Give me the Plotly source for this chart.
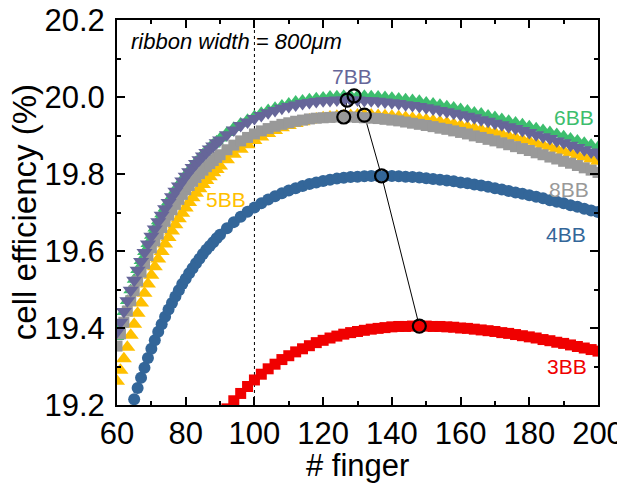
import plotly.graph_objects as go

# ---------------- data ----------------
fingers = list(range(60, 91)) + list(range(92, 201, 2))
fingers_3bb = list(range(88, 91)) + list(range(92, 201, 2))

eff_3bb = [19.141, 19.154, 19.167,
           19.190, 19.211, 19.230, 19.248, 19.265, 19.280, 19.294, 19.306, 19.318, 19.328,
           19.338, 19.346, 19.354, 19.362, 19.368, 19.374, 19.379, 19.384, 19.388, 19.391,
           19.394, 19.397, 19.399, 19.401, 19.403, 19.404, 19.404, 19.405, 19.405, 19.405,
           19.404, 19.404, 19.403, 19.402, 19.400, 19.399, 19.397, 19.395, 19.393, 19.391,
           19.388, 19.386, 19.383, 19.380, 19.377, 19.374, 19.370, 19.367, 19.363, 19.360,
           19.356, 19.352, 19.348, 19.344, 19.340]

eff_4bb = [19.046, 19.083, 19.119, 19.153, 19.185, 19.215, 19.244, 19.271, 19.297, 19.322,
           19.346, 19.368, 19.390, 19.410, 19.429, 19.448, 19.465, 19.482, 19.498, 19.514,
           19.528, 19.542, 19.555, 19.568, 19.580, 19.592, 19.603, 19.613, 19.623, 19.633,
           19.642,
           19.659, 19.675, 19.689, 19.702, 19.713, 19.724, 19.734, 19.742, 19.750, 19.757,
           19.763, 19.769, 19.774, 19.778, 19.782, 19.785, 19.788, 19.790, 19.792, 19.793,
           19.794, 19.795, 19.795, 19.795, 19.795, 19.794, 19.793, 19.792, 19.791, 19.789,
           19.787, 19.785, 19.783, 19.781, 19.778, 19.776, 19.773, 19.770, 19.767, 19.763,
           19.760, 19.756, 19.752, 19.749, 19.745, 19.741, 19.737, 19.732, 19.728, 19.724,
           19.719, 19.715, 19.710, 19.705, 19.701]

eff_5bb = [19.262, 19.290, 19.320, 19.350, 19.381, 19.410, 19.438, 19.465, 19.490, 19.514,
           19.537, 19.559, 19.579, 19.599, 19.618, 19.635, 19.652, 19.668, 19.684, 19.698,
           19.712, 19.726, 19.738, 19.750, 19.762, 19.773, 19.783, 19.793, 19.803, 19.812,
           19.821,
           19.837, 19.851, 19.864, 19.876, 19.887, 19.896, 19.905, 19.913, 19.920, 19.926,
           19.931, 19.936, 19.940, 19.943, 19.946, 19.948, 19.950, 19.951, 19.952, 19.953,
           19.953, 19.953, 19.952, 19.951, 19.950, 19.949, 19.947, 19.945, 19.943, 19.941,
           19.938, 19.936, 19.933, 19.929, 19.926, 19.922, 19.919, 19.915, 19.911, 19.907,
           19.903, 19.898, 19.894, 19.889, 19.885, 19.880, 19.875, 19.870, 19.865, 19.860,
           19.855, 19.849, 19.844, 19.839, 19.833]

eff_6bb = [19.377, 19.410, 19.442, 19.471, 19.499, 19.526, 19.551, 19.575, 19.598, 19.619,
           19.640, 19.659, 19.678, 19.696, 19.712, 19.728, 19.743, 19.758, 19.772, 19.785,
           19.797, 19.809, 19.820, 19.831, 19.841, 19.851, 19.860, 19.869, 19.877, 19.885,
           19.893,
           19.907, 19.920, 19.931, 19.941, 19.950, 19.959, 19.966, 19.972, 19.978, 19.983,
           19.988, 19.991, 19.994, 19.997, 19.999, 20.001, 20.002, 20.003, 20.003, 20.003,
           20.003, 20.002, 20.001, 20.000, 19.998, 19.996, 19.994, 19.992, 19.990, 19.986,
           19.983, 19.980, 19.976, 19.973, 19.969, 19.965, 19.960, 19.957, 19.952, 19.948,
           19.943, 19.938, 19.934, 19.929, 19.924, 19.919, 19.914, 19.909, 19.904, 19.898,
           19.892, 19.887, 19.881, 19.876, 19.870]

eff_7bb = [19.390, 19.415, 19.443, 19.471, 19.498, 19.524, 19.550, 19.573, 19.596, 19.618,
           19.638, 19.657, 19.676, 19.693, 19.710, 19.726, 19.741, 19.755, 19.769, 19.782,
           19.794, 19.806, 19.817, 19.827, 19.837, 19.847, 19.856, 19.865, 19.873, 19.881,
           19.888,
           19.902, 19.914, 19.926, 19.935, 19.944, 19.952, 19.959, 19.965, 19.971, 19.975,
           19.979, 19.983, 19.986, 19.988, 19.990, 19.991, 19.992, 19.992, 19.992, 19.992,
           19.991, 19.990, 19.989, 19.987, 19.985, 19.983, 19.980, 19.978, 19.975, 19.972,
           19.969, 19.965, 19.962, 19.958, 19.954, 19.950, 19.946, 19.941, 19.937, 19.932,
           19.928, 19.923, 19.918, 19.913, 19.908, 19.902, 19.897, 19.892, 19.886, 19.881,
           19.875, 19.869, 19.863, 19.857, 19.852]

eff_8bb = [19.353, 19.385, 19.415, 19.444, 19.471, 19.497, 19.522, 19.545, 19.567, 19.588,
           19.608, 19.626, 19.644, 19.661, 19.677, 19.693, 19.707, 19.721, 19.734, 19.747,
           19.759, 19.770, 19.781, 19.791, 19.801, 19.810, 19.819, 19.827, 19.835, 19.843,
           19.850,
           19.863, 19.875, 19.886, 19.895, 19.904, 19.912, 19.918, 19.924, 19.929, 19.933,
           19.937, 19.940, 19.943, 19.945, 19.946, 19.947, 19.948, 19.948, 19.948, 19.947,
           19.946, 19.945, 19.944, 19.942, 19.940, 19.938, 19.935, 19.932, 19.929, 19.926,
           19.923, 19.919, 19.916, 19.912, 19.908, 19.904, 19.899, 19.895, 19.890, 19.886,
           19.881, 19.876, 19.871, 19.866, 19.861, 19.855, 19.850, 19.844, 19.839, 19.833,
           19.828, 19.822, 19.816, 19.810, 19.804]

# optimum of each curve (open circles)
opt_names = ["3BB", "4BB", "5BB", "6BB", "7BB", "8BB"]
opt_fingers = [148, 137, 132, 129, 127, 126]
opt_eff = [19.405, 19.795, 19.953, 20.003, 19.992, 19.948]

# curve labels
label_text = ["7BB", "6BB", "8BB", "4BB", "5BB", "3BB"]
label_x = [128.3, 193.0, 191.5, 190.7, 91.7, 190.9]
label_y = [20.053, 19.948, 19.760, 19.643, 19.735, 19.300]
label_color = ["#666699", "#3DBE6E", "#999999", "#336699", "#FFC000", "#F00000"]

ribbon_note = "ribbon width = 800μm"
x_title = "# finger"
y_title = "cell efficiency (%)"

FONT = "Liberation Sans, Arial, sans-serif"

fig = go.Figure()

# line joining the optima (below the markers)
fig.add_trace(go.Scatter(x=opt_fingers, y=opt_eff, mode="lines",
                         line=dict(color="black", width=1), hoverinfo="skip"))

series = [
    (fingers, eff_6bb, "6BB", "#3DBE6E", "triangle-up", 13),
    (fingers, eff_5bb, "5BB", "#FFC000", "triangle-up", 14),
    (fingers, eff_8bb, "8BB", "#999999", "square", 11),
    (fingers, eff_7bb, "7BB", "#666699", "triangle-down", 14),
    (fingers, eff_4bb, "4BB", "#336699", "circle", 12),
    (fingers_3bb, eff_3bb, "3BB", "#F00000", "square", 11),
]
for xs, ys, name, col, sym, ms in series:
    fig.add_trace(go.Scatter(x=xs, y=ys, mode="markers", name=name,
                             marker=dict(symbol=sym, size=ms, color=col,
                                         line=dict(width=0))))

fig.add_trace(go.Scatter(x=opt_fingers, y=opt_eff, mode="markers", name="optimum",
                         marker=dict(symbol="circle", size=13, color="rgba(0,0,0,0)",
                                     line=dict(color="black", width=2.2))))

for t, x, y, c in zip(label_text, label_x, label_y, label_color):
    fig.add_annotation(x=x, y=y, text=t, showarrow=False, xanchor="center",
                       yanchor="middle", font=dict(family=FONT, size=21, color=c))

fig.add_annotation(xref="paper", yref="paper", x=0.025, y=0.945, xanchor="left",
                   yanchor="middle", text="<i>" + ribbon_note + "</i>", showarrow=False,
                   font=dict(family=FONT, size=22, color="black"))

fig.add_annotation(xref="paper", yref="paper", x=0.5, y=-0.158, text=x_title,
                   xanchor="center", yanchor="middle",
                   showarrow=False, font=dict(family=FONT, size=31, color="black"))
fig.add_annotation(xref="paper", yref="paper", x=-0.192, y=0.5, text=y_title,
                   xanchor="center", yanchor="middle",
                   textangle=-90, showarrow=False,
                   font=dict(family=FONT, size=33, color="black"))

# cut-off glyph at the right border
fig.add_annotation(xref="paper", yref="paper", x=1.046, y=0.685, xanchor="left",
                   yanchor="middle", text="c", showarrow=False,
                   font=dict(family=FONT, size=24, color="black"))

fig.add_shape(type="line", xref="x", yref="paper", x0=100, x1=100, y0=0, y1=1,
              line=dict(color="black", width=1, dash="dot"), layer="below")

axis_common = dict(showline=True, linewidth=2, linecolor="black", mirror="ticks",
                   ticks="inside", ticklen=8, tickwidth=2, tickcolor="black",
                   showgrid=False, zeroline=False, automargin=False,
                   ticklabeloverflow="allow",
                   tickfont=dict(family=FONT, size=31, color="black"))

fig.update_xaxes(range=[60, 200], dtick=20, tick0=60,
                 minor=dict(dtick=10, ticks="inside", ticklen=4, tickwidth=2,
                            tickcolor="black", showgrid=False),
                 **axis_common)
fig.update_yaxes(range=[19.2, 20.2], dtick=0.2, tick0=19.2, tickformat=".1f",
                 ticklabelstandoff=4,
                 minor=dict(dtick=0.1, ticks="inside", ticklen=4, tickwidth=2,
                            tickcolor="black", showgrid=False),
                 **axis_common)

# the page adds an 8 px offset, so the margins are shifted to keep the plot area in place
fig.update_layout(width=625, height=496, showlegend=False,
                  margin=dict(l=109, r=35, t=12, b=99),
                  plot_bgcolor="white", paper_bgcolor="white")

fig.write_html("out.html")
